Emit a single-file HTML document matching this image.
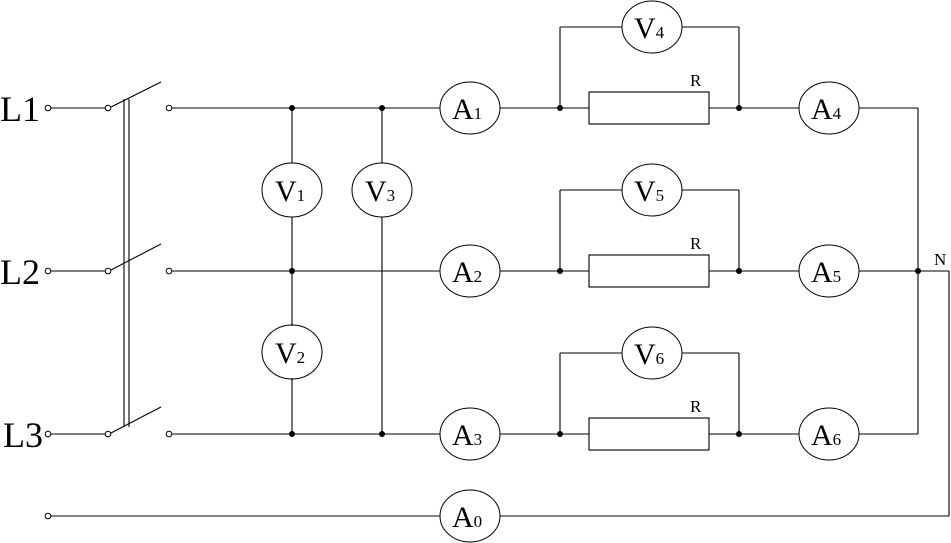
<!DOCTYPE html>
<html><head><meta charset="utf-8"><style>
html,body{margin:0;padding:0;background:#fff}
svg{display:block}
text{font-family:"Liberation Serif",serif;fill:#000}
</style></head><body>
<svg width="951" height="543" viewBox="0 0 951 543" xmlns="http://www.w3.org/2000/svg">
<g stroke="#000" stroke-width="1.1" fill="none">
<line x1="51" y1="108" x2="105" y2="108"/>
<line x1="51" y1="271" x2="105" y2="271"/>
<line x1="51" y1="434" x2="105" y2="434"/>
<line x1="51" y1="516" x2="440" y2="516"/>
<line x1="111" y1="107" x2="161" y2="82"/>
<line x1="111" y1="270" x2="161" y2="244"/>
<line x1="111" y1="433" x2="161" y2="407"/>
<line x1="124" y1="99" x2="124" y2="427"/>
<line x1="129" y1="99" x2="129" y2="427"/>
<line x1="172" y1="108" x2="440" y2="108"/>
<line x1="172" y1="271" x2="440" y2="271"/>
<line x1="172" y1="434" x2="440" y2="434"/>
<line x1="292" y1="108" x2="292" y2="163"/>
<line x1="292" y1="217" x2="292" y2="326"/>
<line x1="292" y1="378" x2="292" y2="434"/>
<line x1="382" y1="108" x2="382" y2="163"/>
<line x1="382" y1="217" x2="382" y2="434"/>
<g id="br">
<line x1="500" y1="108" x2="589" y2="108"/>
<rect x="589" y="92" width="120" height="32"/>
<line x1="709" y1="108" x2="799" y2="108"/>
<line x1="560" y1="108" x2="560" y2="27"/>
<line x1="560" y1="27" x2="622" y2="27"/>
<line x1="682" y1="27" x2="739" y2="27"/>
<line x1="739" y1="27" x2="739" y2="108"/>
<line x1="859" y1="108" x2="918" y2="108"/>
</g>
<use href="#br" y="163"/>
<use href="#br" y="326"/>
<line x1="918" y1="108" x2="918" y2="434"/>
<line x1="918" y1="271" x2="949" y2="271"/>
<line x1="949" y1="271" x2="949" y2="516"/>
<line x1="500" y1="516" x2="949" y2="516"/>
<g stroke-width="1">
<ellipse cx="292" cy="190" rx="30" ry="27"/>
<ellipse cx="292" cy="352" rx="30" ry="27"/>
<ellipse cx="382" cy="190" rx="30" ry="27"/>
<ellipse cx="470" cy="108" rx="30" ry="26"/>
<ellipse cx="470" cy="271" rx="30" ry="26"/>
<ellipse cx="470" cy="434" rx="30" ry="26"/>
<ellipse cx="470" cy="516" rx="30" ry="26"/>
<ellipse cx="652" cy="27" rx="30" ry="26"/>
<ellipse cx="652" cy="190" rx="30" ry="26"/>
<ellipse cx="652" cy="353" rx="30" ry="26"/>
<ellipse cx="829" cy="108" rx="30" ry="26"/>
<ellipse cx="829" cy="271" rx="30" ry="26"/>
<ellipse cx="829" cy="434" rx="30" ry="26"/>
</g>
<g fill="#fff" stroke-width="1">
<circle cx="48" cy="108" r="2.8"/><circle cx="108" cy="108" r="2.8"/><circle cx="169" cy="108" r="2.8"/>
<circle cx="48" cy="271" r="2.8"/><circle cx="108" cy="271" r="2.8"/><circle cx="169" cy="271" r="2.8"/>
<circle cx="48" cy="434" r="2.8"/><circle cx="108" cy="434" r="2.8"/><circle cx="169" cy="434" r="2.8"/>
<circle cx="48" cy="516" r="2.8"/>
</g>
</g>
<g fill="#000">
<circle cx="292" cy="108" r="3"/><circle cx="382" cy="108" r="3"/>
<circle cx="292" cy="271" r="3"/>
<circle cx="292" cy="434" r="3"/><circle cx="382" cy="434" r="3"/>
<circle cx="560" cy="108" r="3"/><circle cx="739" cy="108" r="3"/>
<circle cx="560" cy="271" r="3"/><circle cx="739" cy="271" r="3"/>
<circle cx="560" cy="434" r="3"/><circle cx="739" cy="434" r="3"/>
<circle cx="918" cy="271" r="3"/>
</g>
<g font-size="36">
<text x="0" y="121">L1</text>
<text x="0" y="284">L2</text>
<text x="3" y="447">L3</text>
</g>
<g font-size="30">
<text x="275" y="201">V<tspan font-size="17">1</tspan></text>
<text x="275" y="363">V<tspan font-size="17">2</tspan></text>
<text x="365" y="201">V<tspan font-size="17">3</tspan></text>
<text x="452" y="119">A<tspan font-size="17">1</tspan></text>
<text x="452" y="282">A<tspan font-size="17">2</tspan></text>
<text x="452" y="445">A<tspan font-size="17">3</tspan></text>
<text x="452" y="527">A<tspan font-size="17">0</tspan></text>
<text x="634" y="38">V<tspan font-size="17">4</tspan></text>
<text x="634" y="201">V<tspan font-size="17">5</tspan></text>
<text x="634" y="364">V<tspan font-size="17">6</tspan></text>
<text x="811" y="119">A<tspan font-size="17">4</tspan></text>
<text x="811" y="282">A<tspan font-size="17">5</tspan></text>
<text x="811" y="445">A<tspan font-size="17">6</tspan></text>
</g>
<g font-size="17">
<text x="690" y="86">R</text>
<text x="690" y="249">R</text>
<text x="690" y="412">R</text>
<text x="934" y="265">N</text>
</g>
</svg>
</body></html>
